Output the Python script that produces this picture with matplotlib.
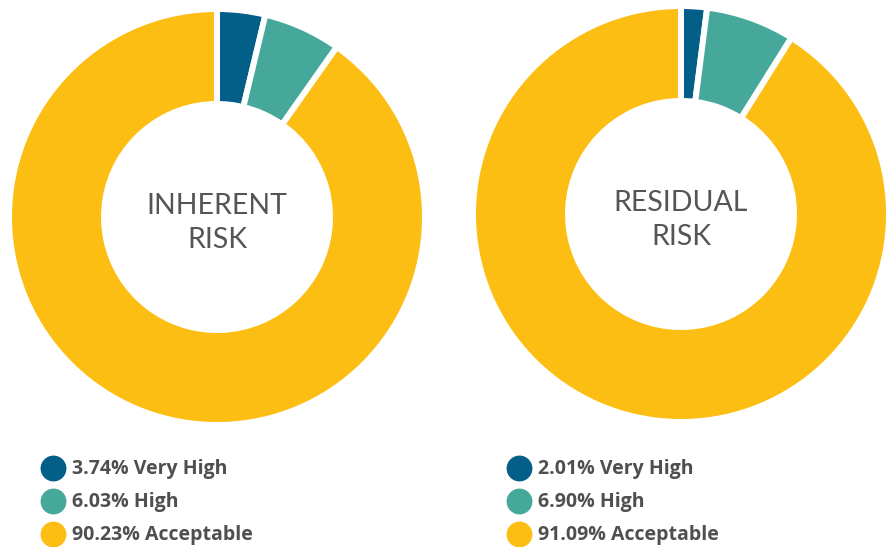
import matplotlib.pyplot as plt

# Risk shares (percent) for each donut
categories = ["Very High", "High", "Acceptable"]
inherent = [3.74, 6.03, 90.23]
residual = [2.01, 6.90, 91.09]
titles = ["INHERENT\nRISK", "RESIDUAL\nRISK"]

colors = ["#045f88", "#46a89b", "#fcbe13"]
text_color = "#4f4f4f"

W, H = 890, 547
fig = plt.figure(figsize=(W / 100, H / 100), dpi=100)
ax = fig.add_axes([0, 0, 1, 1])

outer_r = 208
ring_w = 95
# centres given in pixels from the top-left corner
centers = [(217, 217), (681, 214)]
legend_x = [53, 519]

for vals, title, (cx, cy), lx in zip([inherent, residual], titles, centers, legend_x):
    ax.pie(vals, colors=colors, startangle=90, counterclock=False,
           center=(cx, H - cy), radius=outer_r, frame=True,
           wedgeprops=dict(width=ring_w, edgecolor="white", linewidth=4.3))
    ax.text(cx, H - cy - 6, title, ha="center", va="center", fontsize=20.5,
            family="Lato", fontweight="normal", color="#555555", linespacing=1.42)

    # legend rows under each donut
    for i, (v, name) in enumerate(zip(vals, categories)):
        y = H - (468 + i * 33)
        ax.scatter([lx], [y], s=310, color=colors[i], zorder=3)
        ax.text(lx + 19, y - 1, f"{v:.2f}% {name}", ha="left", va="center",
                fontsize=14, family="Open Sans", fontweight="bold", color=text_color)

ax.set_xlim(0, W)
ax.set_ylim(0, H)
ax.set_aspect("equal")
ax.axis("off")
fig.savefig("out.png", dpi=100)
